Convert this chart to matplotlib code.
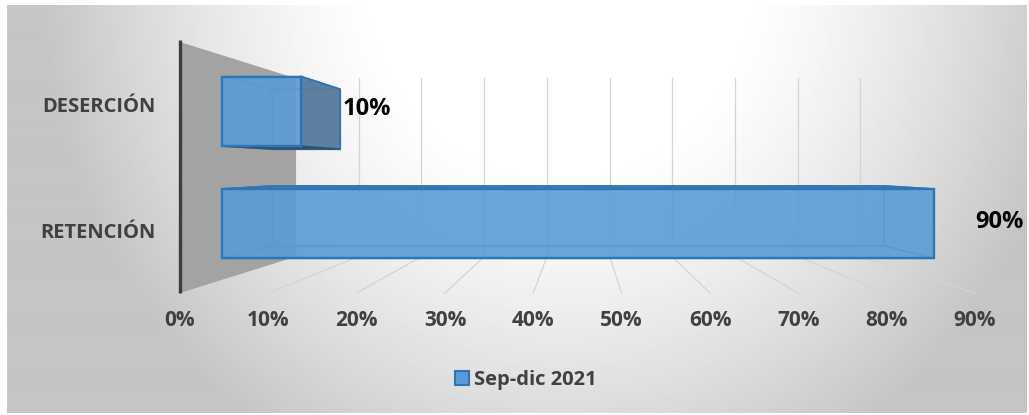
import numpy as np
import matplotlib
matplotlib.use("Agg")
import matplotlib.pyplot as plt
from matplotlib.patches import Polygon, Patch

# ---- data ----
categories = ["DESERCIÓN", "RETENCIÓN"]
values = [10, 90]
series_name = "Sep-dic 2021"
tick_values = [0, 10, 20, 30, 40, 50, 60, 70, 80, 90]
tick_labels = ["0%", "10%", "20%", "30%", "40%", "50%", "60%", "70%", "80%", "90%"]
value_labels = ["10%", "90%"]

plt.rcParams["font.family"] = ["Open Sans", "DejaVu Sans"]

W, H = 1029, 415
fig = plt.figure(figsize=(W / 100, H / 100), dpi=100)

# ---- background gradient (chart area) ----
bg = fig.add_axes([0, 0, 1, 1], zorder=-10)
bg.axis("off")
yy, xx = np.mgrid[0:H, 0:W]
r = np.sqrt(((xx - 560) / 520.0) ** 2 + ((yy + 30) / 560.0) ** 2)
t = np.clip((r - 0.35) / 0.65, 0, 1)
shade = 255 - 58 * t ** 1.3
shade[:6, :] = 255
shade[:, :7] = 255
shade[413:, :] = 255
shade[:, 1027:] = 255
bg.imshow(shade, cmap="gray", vmin=0, vmax=255, extent=(0, W, H, 0),
          aspect="auto", interpolation="bilinear")
bg.set_xlim(0, W)
bg.set_ylim(H, 0)

# ---- main axes (front plane of the 3D box) ----
ax = fig.add_axes([180 / W, 1 - 293 / H, (975 - 180) / W, (293 - 42) / H])
ax.patch.set_alpha(0)
n = len(categories)
ax.set_xlim(tick_values[0], tick_values[-1])
ax.set_ylim(n - 0.5, -0.5)

# perspective parameters
VX = 45.3            # vanishing point x (data units)
VY = (n - 1) / 2.0   # vanishing point y
K_WALL = 0.71        # depth scale of back wall
K_FRONT = 0.895      # depth scale of bar front face
K_BACK = 0.77        # depth scale of bar back face
HALF = 0.31          # half bar height (front-plane units)


def P(v, y, k):
    return (VX + (v - VX) * k, VY + (y - VY) * k)


y_top, y_bot = -0.5, n - 0.5

# side wall
wall = Polygon([P(0, y_top, 1), P(0, y_top, K_WALL), P(0, y_bot, K_WALL), P(0, y_bot, 1)],
               closed=True, facecolor="#a3a3a3", edgecolor="none", zorder=1, clip_on=False)
ax.add_patch(wall)
ax.plot(*zip(P(0, y_top - 0.015, 1), P(0, y_bot, 1)), color="#3d3d3d", lw=2.4,
        zorder=2, clip_on=False, solid_capstyle="butt")

# gridlines: back wall + floor
for v in tick_values[1:]:
    ax.plot(*zip(P(v, y_top, K_WALL), P(v, y_bot, K_WALL)), color="#d4d4d4", lw=0.9,
            zorder=1.5, clip_on=False)
    ax.plot(*zip(P(v, y_bot, K_WALL), P(v, y_bot, 1)), color="#d4d4d4", lw=0.9,
            zorder=1.5, clip_on=False)

# bars (3D boxes)
for i, v in enumerate(values):
    top, bot = i - HALF, i + HALF
    F = [P(0, top, K_FRONT), P(v, top, K_FRONT), P(v, bot, K_FRONT), P(0, bot, K_FRONT)]
    B = [P(0, top, K_BACK), P(v, top, K_BACK), P(v, bot, K_BACK), P(0, bot, K_BACK)]
    faces = {
        "back": B,
        "top": [F[0], F[1], B[1], B[0]],
        "bottom": [F[3], F[2], B[2], B[3]],
        "left": [F[0], F[3], B[3], B[0]],
        "right": [F[1], F[2], B[2], B[1]],
    }
    # hidden edges (seen through transparency)
    for name, pts in faces.items():
        ax.add_patch(Polygon(pts, closed=True, facecolor="none", edgecolor="#3f83c8",
                             lw=1.0, alpha=0.7, zorder=3, clip_on=False))
    # visible side faces
    if v < VX:
        ax.add_patch(Polygon(faces["right"], closed=True, facecolor="#56789e",
                             edgecolor="#2e75b6", lw=1.4, alpha=0.95, zorder=4, clip_on=False))
    if top > VY:
        ax.add_patch(Polygon(faces["top"], closed=True, facecolor="#3c78b8",
                             edgecolor="#2e75b6", lw=1.0, zorder=4, clip_on=False))
    if bot < VY:
        ax.add_patch(Polygon(faces["bottom"], closed=True, facecolor="#34506e",
                             edgecolor="#34506e", lw=1.0, zorder=4, clip_on=False))
    # front face
    ax.add_patch(Polygon(F, closed=True, facecolor="#5b9bd5", alpha=0.9,
                         edgecolor="none", zorder=5, clip_on=False))
    ax.add_patch(Polygon(F, closed=True, facecolor="none", edgecolor="#2e75b6",
                         lw=1.7, zorder=6, clip_on=False))
    # value label
    ax.annotate(value_labels[i], xy=P(v, i, K_FRONT), xytext=(30, 1.5),
                textcoords="offset points", ha="left", va="center",
                fontsize=17, fontweight="bold", color="black", zorder=7,
                annotation_clip=False)

# axes styling
for s in ax.spines.values():
    s.set_visible(False)
ax.set_xticks(tick_values)
ax.set_xticklabels(tick_labels)
ax.set_yticks(range(n))
ax.set_yticklabels(categories)
ax.tick_params(axis="x", length=0, pad=12.5, labelsize=15, labelcolor="#404040")
ax.tick_params(axis="y", length=0, pad=18, labelsize=14.5, labelcolor="#404040")
for lab in ax.get_xticklabels() + ax.get_yticklabels():
    lab.set_fontweight("bold")

# legend
handle = Patch(facecolor="#5b9bd5", edgecolor="#2e75b6", lw=1.5)
fig.legend([handle], [series_name], loc="center", bbox_to_anchor=(526 / W, 1 - 380 / H),
           frameon=False, handlelength=0.72, handleheight=0.72, handletextpad=0.25,
           prop={"weight": "bold", "size": 14.5}, labelcolor="#404040")

fig.savefig("out.png", dpi=100)
